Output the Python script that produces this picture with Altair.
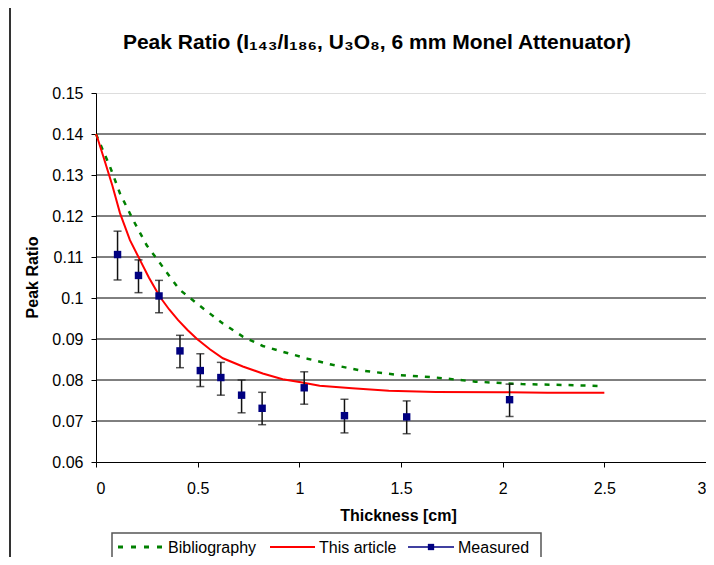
import altair as alt
import pandas as pd

# ---------------- data ----------------
title_text = "Peak Ratio (I\u2081\u2084\u2083/I\u2081\u2088\u2086, U\u2083O\u2088, 6 mm Monel Attenuator)"

x_ticks = [0, 0.5, 1, 1.5, 2, 2.5, 3]
y_ticks = [0.06, 0.07, 0.08, 0.09, 0.10, 0.11, 0.12, 0.13, 0.14, 0.15]
y_grid = [0.07, 0.08, 0.09, 0.10, 0.11, 0.12, 0.13, 0.14]

# Bibliography (green dotted)
bib_x = [0.0, 0.011, 0.069, 0.118, 0.183, 0.25, 0.30, 0.363, 0.412, 0.526, 0.624, 0.722,
         0.82, 0.918, 1.04, 1.163, 1.294, 1.49, 1.653, 1.866, 2.095, 2.3, 2.5]
bib_y = [0.1400, 0.1387, 0.1320, 0.1255, 0.1190, 0.1128, 0.1095, 0.1052, 0.1020, 0.0975,
         0.0938, 0.0906, 0.0883, 0.0869, 0.0852, 0.0837, 0.0824, 0.0812, 0.0807, 0.0796,
         0.0790, 0.0788, 0.0785]

# This article (red)
art_x = [0.0, 0.008, 0.036, 0.08, 0.118, 0.167, 0.216, 0.26, 0.314, 0.36, 0.404, 0.45,
         0.497, 0.56, 0.624, 0.722, 0.82, 0.918, 1.0, 1.1, 1.26, 1.44, 1.67, 2.0, 2.22, 2.5]
art_y = [0.1400, 0.1389, 0.1345, 0.1275, 0.1207, 0.1141, 0.1093, 0.1050, 0.1003, 0.0972,
         0.0946, 0.0922, 0.0900, 0.0875, 0.0853, 0.0833, 0.0816, 0.0802, 0.0795, 0.0786,
         0.0780, 0.0774, 0.0771, 0.0770, 0.0769, 0.0769]

# Measured (navy squares with error bars)
meas_x = [0.106, 0.209, 0.310, 0.413, 0.513, 0.614, 0.716, 0.817, 1.024, 1.222, 1.528, 2.034]
meas_y = [0.1106, 0.1055, 0.1005, 0.0871, 0.0823, 0.0806, 0.0763, 0.0731, 0.0781, 0.0713, 0.0710, 0.0752]
meas_lo = [0.1044, 0.1013, 0.0964, 0.0830, 0.0784, 0.0763, 0.0720, 0.0691, 0.0741, 0.0671, 0.0669, 0.0711]
meas_hi = [0.1163, 0.1093, 0.1043, 0.0909, 0.0864, 0.0843, 0.0800, 0.0770, 0.0820, 0.0753, 0.0749, 0.0790]

legend_labels = ["Bibliography", "This article", "Measured"]

FONT = "Liberation Sans"
W, H = 610, 369

# ---------------- frames ----------------
bib_df = pd.DataFrame({"x": bib_x, "y": bib_y})
art_df = pd.DataFrame({"x": art_x, "y": art_y})
meas_df = pd.DataFrame({"x": meas_x, "y": meas_y, "lo": meas_lo, "hi": meas_hi})
grid_df = pd.DataFrame({"y": y_grid})
one = pd.DataFrame({"t": [title_text]})

xscale = alt.Scale(domain=[0, 3], nice=False, zero=False)
yscale = alt.Scale(domain=[0.06, 0.15], nice=False, zero=False)

x_axis = alt.Axis(values=x_ticks, format="~g", title="Thickness [cm]", grid=False,
                  domainColor="black", tickColor="black", tickSize=5,
                  labelFont=FONT, labelFontSize=16, labelColor="black", labelPadding=13,
                  titleFont=FONT, titleFontSize=16, titleFontWeight="bold", titleColor="black",
                  titleX=302, titleY=53, titleBaseline="middle", titleAlign="center")
y_axis = alt.Axis(values=y_ticks, format="~g", title="Peak Ratio", grid=False,
                  domainColor="black", tickColor="black", tickSize=5,
                  labelFont=FONT, labelFontSize=16, labelColor="black", labelPadding=8,
                  titleFont=FONT, titleFontSize=16, titleFontWeight="bold", titleColor="black",
                  titleX=-64, titleY=184, titleAngle=270, titleBaseline="middle",
                  titleAlign="center")

grid = alt.Chart(grid_df).mark_rule(color="black", strokeWidth=1).encode(
    y=alt.Y("y:Q", scale=yscale, axis=y_axis)
)

bib = alt.Chart(bib_df).mark_line(color="#008000", strokeWidth=2.5, strokeDash=[5, 7]).encode(
    x=alt.X("x:Q", scale=xscale, axis=x_axis),
    y=alt.Y("y:Q", scale=yscale),
)

art = alt.Chart(art_df).mark_line(color="#FF0000", strokeWidth=2).encode(
    x=alt.X("x:Q", scale=xscale),
    y=alt.Y("y:Q", scale=yscale),
)

err = alt.Chart(meas_df).mark_rule(color="#111111", strokeWidth=1.5).encode(
    x=alt.X("x:Q", scale=xscale),
    y=alt.Y("lo:Q", scale=yscale),
    y2="hi:Q",
)
cap_lo = alt.Chart(meas_df).mark_tick(color="#111111", orient="horizontal", size=8, thickness=1.5).encode(
    x=alt.X("x:Q", scale=xscale),
    y=alt.Y("lo:Q", scale=yscale),
)
cap_hi = alt.Chart(meas_df).mark_tick(color="#111111", orient="horizontal", size=8, thickness=1.5).encode(
    x=alt.X("x:Q", scale=xscale),
    y=alt.Y("hi:Q", scale=yscale),
)
pts = alt.Chart(meas_df).mark_point(shape="square", filled=True, size=55, color="#000080", opacity=1).encode(
    x=alt.X("x:Q", scale=xscale),
    y=alt.Y("y:Q", scale=yscale),
)

# ---------------- title ----------------
title = alt.Chart(one).mark_text(font=FONT, fontSize=21, fontWeight="bold", color="black",
                                 align="center", baseline="middle").encode(
    x=alt.value(281), y=alt.value(-50), text="t:N"
)

# ---------------- outer frame ----------------
frame_left = alt.Chart(one).mark_rule(color="#333333", strokeWidth=2).encode(
    x=alt.value(-86), y=alt.value(-87), y2=alt.value(480)
)
frame_top = alt.Chart(one).mark_rule(color="#333333", strokeWidth=2).encode(
    x=alt.value(-86), x2=alt.value(720), y=alt.value(-87)
)

# ---------------- legend ----------------
LY = 454
leg_box = alt.Chart(one).mark_rect(fill="white", stroke="#555555", strokeWidth=1.5).encode(
    x=alt.value(16), x2=alt.value(445), y=alt.value(440), y2=alt.value(480)
)
leg_bib = alt.Chart(one).mark_rule(color="#008000", strokeWidth=3, strokeDash=[5, 8]).encode(
    x=alt.value(22), x2=alt.value(66), y=alt.value(LY)
)
leg_art = alt.Chart(one).mark_rule(color="#FF0000", strokeWidth=2).encode(
    x=alt.value(174), x2=alt.value(219), y=alt.value(LY)
)
leg_meas = alt.Chart(one).mark_rule(color="#000080", strokeWidth=1.5).encode(
    x=alt.value(312), x2=alt.value(358), y=alt.value(LY)
)
leg_sq = alt.Chart(one).mark_point(shape="square", filled=True, size=40, color="#000080", opacity=1).encode(
    x=alt.value(335), y=alt.value(LY)
)
leg_txt = []
for lbl, xx in zip(legend_labels, [72, 223, 362]):
    leg_txt.append(
        alt.Chart(pd.DataFrame({"t": [lbl]})).mark_text(
            font=FONT, fontSize=16, color="black", align="left", baseline="middle"
        ).encode(x=alt.value(xx), y=alt.value(LY + 1), text="t:N")
    )

chart = alt.layer(
    grid, bib, art, err, cap_lo, cap_hi, pts,
    title, frame_left, frame_top,
    leg_box, leg_bib, leg_art, leg_meas, leg_sq, *leg_txt,
).properties(
    width=W, height=H,
    autosize=alt.AutoSizeParams(type="none"),
    padding={"left": 88, "top": 85, "right": 0, "bottom": 95},
).configure_view(
    stroke="#808080", strokeWidth=1
).configure(background="white")

chart.save("out.html", embed_options={"renderer": "svg", "actions": False})
